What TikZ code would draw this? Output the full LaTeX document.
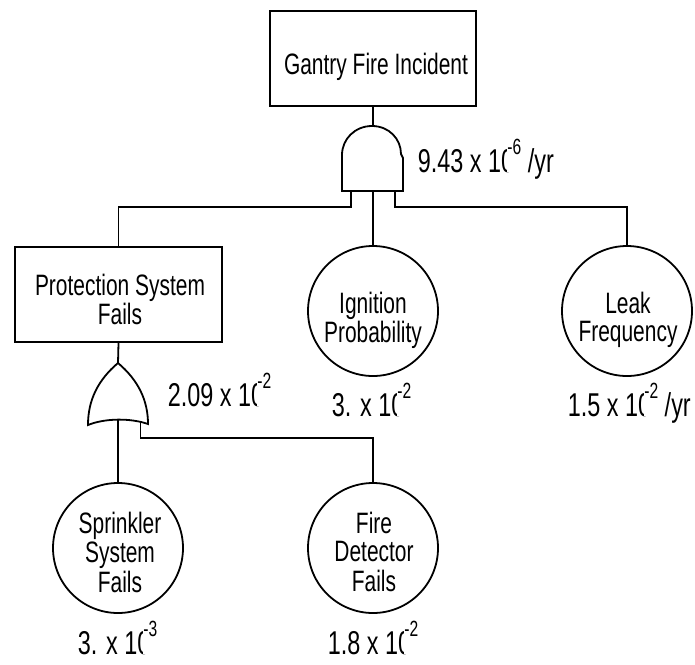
\documentclass[tikz,border=0pt]{standalone}
\usepackage{fontspec}
\setmainfont{Liberation Sans}[FakeStretch=0.71]
\newcommand\ftext{\fontsize{29.5}{28.5}\selectfont}
\newcommand\flab{\fontsize{33}{33}\selectfont}
\newcommand\expo[1]{\kern-0.21em{\setlength\fboxsep{0pt}\colorbox{white}{\rule{0pt}{0.74em}\raisebox{0.54em}{\fontsize{22}{22}\selectfont #1}}}}
\begin{document}
\begin{tikzpicture}[x=1pt,y=-1pt,line width=1.8pt,
  boxnode/.style={draw, rectangle, inner sep=0pt, minimum width=206pt, minimum height=95pt},
  evt/.style={draw, circle, inner sep=0pt, minimum size=130pt},
  txt/.style={inner sep=0pt, anchor=base, font=\ftext},
  lab/.style={inner sep=0pt, anchor=base west, font=\flab},
  gate/.style={line width=1.8pt, line join=miter}]
\useasboundingbox (0,0) rectangle (695,664);
% top event
\node[boxnode] (top) at (373,58.5) {};
\node[txt] (toptxt) at (376,74) {Gantry Fire Incident};
% AND gate
\coordinate (andtop) at (373,126);
\coordinate (andL) at (351,191);
\coordinate (andM) at (373,191);
\coordinate (andR) at (395,191);
\coordinate (busL) at (351,207);
\coordinate (busR) at (395,207);
\draw[gate] (342,191) -- (342,155) .. controls (342,139) and (355,126) .. (372,126)
  .. controls (389,126) and (401,139) .. (401,154) -- (403,158) -- (403,191) -- cycle;
% intermediate and basic events
\node[boxnode, minimum width=207pt] (prot) at (118.5,294.5) {};
\node[txt] (prottxt) at (120,295) {\begin{tabular}[t]{@{}c@{}}Protection System\\Fails\end{tabular}};
\node[evt] (ign) at (373,311) {};
\node[txt] (igntxt) at (373,313) {\begin{tabular}[t]{@{}c@{}}Ignition\\Probability\end{tabular}};
\node[evt] (leak) at (627,311) {};
\node[txt] (leaktxt) at (628,313) {\begin{tabular}[t]{@{}c@{}}Leak\\Frequency\end{tabular}};
% OR gate
\coordinate (ortop) at (118,363);
\coordinate (orM) at (118,419.5);
\coordinate (orR) at (140.5,422);
\coordinate (orbus) at (140.5,438);
\draw[gate] (118,363) .. controls (98,380) and (88,400) .. (88,425)
  .. controls (105,418) and (131,418) .. (148,424)
  .. controls (148,400) and (138,380) .. (118,363) -- cycle;
\node[evt] (spr) at (118,548) {};
\node[txt] (sprtxt) at (120,533) {\begin{tabular}[t]{@{}c@{}}Sprinkler\\System\\Fails\end{tabular}};
\node[evt] (det) at (373,548) {};
\node[txt] (dettxt) at (374,533) {\begin{tabular}[t]{@{}c@{}}Fire\\Detector\\Fails\end{tabular}};
% connectors
\draw (top.south) -- (andtop);
\draw (andL) -- (busL) -| (prot.north);
\draw (andM) -- (ign.north);
\draw (andR) -- (busR) -| (leak.north);
\draw (prot.south) -- (ortop);
\draw (orM) -- (spr.north);
\draw (orR) -- (orbus) -| (det.north);
% values
\node[lab] (andlab) at (417,172) {9.43 x 10\expo{-6} /yr};
\node[lab] (orlab) at (167,406) {2.09 x 10\expo{-2}};
\node[lab] (ignlab) at (331,416) {3. x 10\expo{-2}};
\node[lab] (leaklab) at (567,416) {1.5 x 10\expo{-2} /yr};
\node[lab] (sprlab) at (77,654) {3. x 10\expo{-3}};
\node[lab] (detlab) at (327,654) {1.8 x 10\expo{-2}};
\end{tikzpicture}
\end{document}
